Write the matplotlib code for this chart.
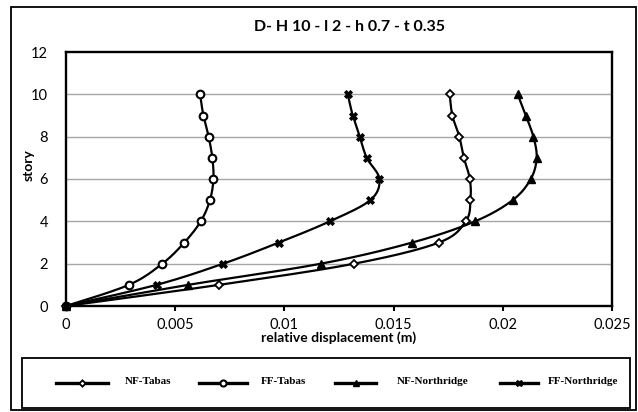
import numpy as np
import matplotlib
matplotlib.use("Agg")
import matplotlib.pyplot as plt
from matplotlib.patches import Rectangle
from matplotlib.lines import Line2D

stories = [0, 1, 2, 3, 4, 5, 6, 7, 8, 9, 10]
nf_tabas = [0, 0.00702, 0.0132, 0.01708, 0.0183, 0.01852, 0.01849, 0.01822, 0.01801, 0.01769, 0.01757]
ff_tabas = [0, 0.00288, 0.00441, 0.00542, 0.00617, 0.00659, 0.00675, 0.00670, 0.00653, 0.00629, 0.00614]
nf_northridge = [0, 0.0056, 0.01168, 0.01586, 0.01873, 0.02045, 0.02128, 0.02155, 0.0214, 0.02105, 0.02068]
ff_northridge = [0, 0.00415, 0.0072, 0.00975, 0.01208, 0.01393, 0.01435, 0.01377, 0.01345, 0.01313, 0.0129]
series_names = ["NF-Tabas", "FF-Tabas", "NF-Northridge", "FF-Northridge"]
title = "D- H 10 - l 2 - h 0.7 - t 0.35"
xlabel = "relative displacement (m)"
ylabel = "story"
xticks = [0, 0.005, 0.01, 0.015, 0.02, 0.025]
xticklabels = ["0", "0.005", "0.01", "0.015", "0.02", "0.025"]
yticks = [0, 2, 4, 6, 8, 10, 12]

W, H = 638, 412
fig = plt.figure(figsize=(W / 100, H / 100), dpi=100)
fig.patch.set_facecolor("white")

L, R, T, B = 66, 612, 52, 306
ax = fig.add_axes([L / W, 1 - B / H, (R - L) / W, (B - T) / H])
ax.set_xlim(0, 0.025)
ax.set_ylim(0, 12)

sx = (R - L) / 0.025
sy = (B - T) / 12.0


def smooth(xs, ys, n=20):
    u = np.asarray(xs) * sx
    v = np.asarray(ys) * sy
    P = np.column_stack([u, v])
    P = np.vstack([P[0], P, P[-1]])
    out = []
    for i in range(1, len(P) - 2):
        p0, p1, p2, p3 = P[i - 1], P[i], P[i + 1], P[i + 2]
        t = np.linspace(0, 1, n, endpoint=False)[:, None]
        c = 0.5 * ((2 * p1) + (-p0 + p2) * t + (2 * p0 - 5 * p1 + 4 * p2 - p3) * t ** 2
                   + (-p0 + 3 * p1 - 3 * p2 + p3) * t ** 3)
        out.append(c)
    out.append(P[-2][None, :])
    out = np.vstack(out)
    return out[:, 0] / sx, out[:, 1] / sy


styles = [
    dict(marker="D", ms=4, mfc="white", mec="black", mew=1.3),
    dict(marker="o", ms=5.5, mfc="white", mec="black", mew=1.5),
    dict(marker="^", ms=6, mfc="black", mec="black", mew=1),
    dict(marker="X", ms=5.5, mfc="black", mec="black", mew=0.6),
]
data = [nf_tabas, ff_tabas, nf_northridge, ff_northridge]

for vals, st in zip(data, styles):
    xs, ys = smooth(vals, stories)
    ax.plot(xs, ys, color="black", lw=1.6, zorder=3, solid_capstyle="round")
    ax.plot(vals, stories, ls="none", zorder=4, clip_on=False, **st)

for y in [2, 4, 6, 8, 10]:
    ax.axhline(y, color="#a6a6a6", lw=1.0, zorder=1)

for s in ax.spines.values():
    s.set_linewidth(1.7)
    s.set_color("black")

tickfont = dict(family="Lato", size=10.5)
ax.set_xticks(xticks)
ax.set_xticklabels(xticklabels, **tickfont)
ax.set_yticks(yticks)
ax.set_yticklabels([str(t) for t in yticks], **tickfont)
ax.tick_params(axis="x", direction="out", length=3.5, width=1.5, pad=5)
ax.tick_params(axis="y", length=0, pad=13)

fig.text((L + R) / 2 / W, 1 - 338 / H, xlabel, ha="center", va="center",
         family="Lato", weight="bold", size=10)
fig.text(29 / W, 1 - 165 / H, ylabel, ha="center", va="center", rotation=90,
         family="Lato", weight="bold", size=10)
fig.text(350 / W, 1 - 27 / H, title, ha="center", va="center",
         family="Lato", weight="bold", size=11.5)

# outer border
fig.patches.append(Rectangle((11 / W, 1 - 410 / H), (636 - 11) / W, (410 - 7) / H,
                             transform=fig.transFigure, fill=False, ec="black", lw=1.3))
# legend box
fig.patches.append(Rectangle((22 / W, 1 - 408 / H), (630 - 22) / W, (408 - 358) / H,
                             transform=fig.transFigure, fill=False, ec="black", lw=1.3))

# legend entries (handle x0, x1, label x) in pixels
leg_pos = [(56, 108, 125), (199, 247, 261), (335, 376, 397), (500, 538, 548)]
ly = 1 - 383 / H
for name, st, (x0, x1, tx) in zip(series_names, styles, leg_pos):
    fig.add_artist(Line2D([x0 / W, x1 / W], [ly, ly], transform=fig.transFigure,
                          color="black", lw=2.4))
    st2 = dict(st)
    st2["ms"] = st["ms"] * 0.8
    fig.add_artist(Line2D([(x0 + x1) / 2 / W], [ly], transform=fig.transFigure,
                          ls="none", **st2))
    fig.text(tx / W, ly + 2 / H, name, ha="left", va="center",
             family="Liberation Serif", weight="bold", size=8)

fig.savefig("out.png", dpi=100)
